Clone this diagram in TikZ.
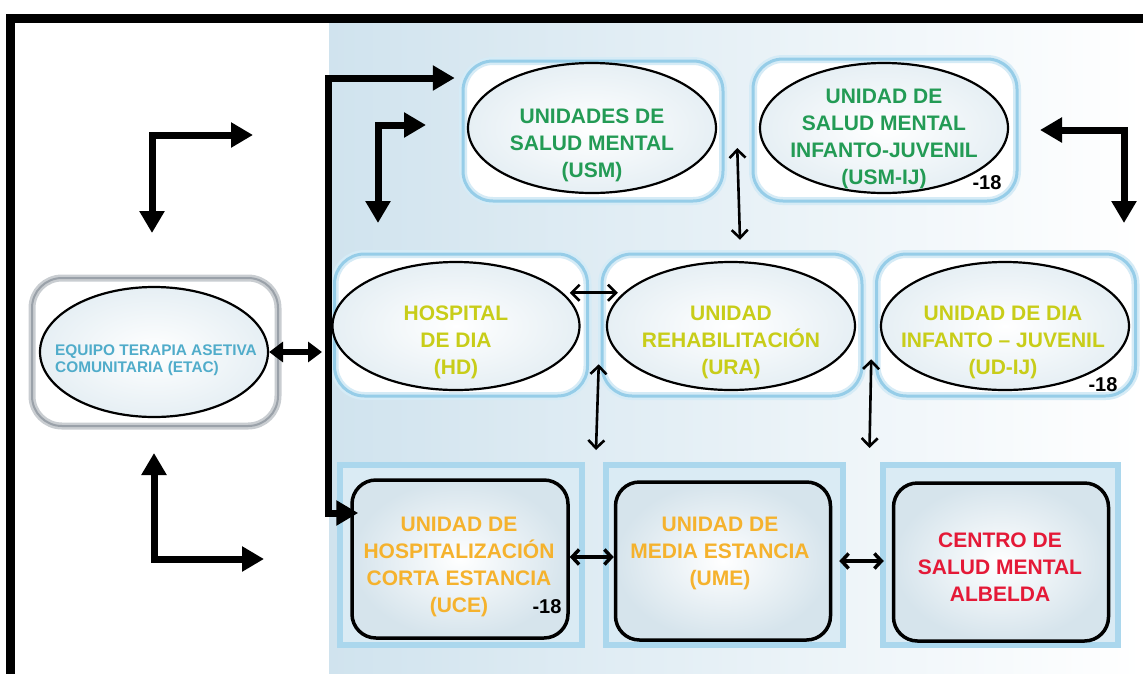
\documentclass[tikz,border=0pt]{standalone}
\usepackage{fontspec}
\setmainfont{Liberation Sans}
\usetikzlibrary{arrows.meta,shapes.geometric}
\definecolor{bgblue}{RGB}{208,227,238}
\definecolor{glowblue}{RGB}{150,205,232}
\definecolor{sqfill}{RGB}{218,235,244}
\definecolor{ellblue}{RGB}{230,239,244}
\definecolor{innerblue}{RGB}{214,228,236}
\definecolor{shadowgray}{RGB}{120,130,140}
\definecolor{etacblue}{RGB}{80,172,202}
\definecolor{textgreen}{RGB}{35,155,85}
\definecolor{textyellow}{RGB}{200,205,25}
\definecolor{textorange}{RGB}{245,178,45}
\definecolor{textred}{RGB}{228,25,55}
\begin{document}
\begin{tikzpicture}[x=1pt,y=-1pt]
    % Define the style for the blocks
    \tikzset{glowbox/.style={rectangle, rounded corners=30pt, draw=glowblue!40, line width=2.5pt, double=glowblue, double distance=3pt, fill=white, inner sep=0pt}}
    \tikzset{shadowbox/.style={rectangle, rounded corners=30pt, draw=shadowgray!40, line width=2.5pt, double=shadowgray!75, double distance=2pt, fill=white, inner sep=0pt}}
    \tikzset{unitell/.style={ellipse, draw, line width=2.2pt, inner color=white, outer color=ellblue, inner sep=0pt}}
    \tikzset{squarebox/.style={rectangle, draw=glowblue!80, line width=6pt, fill=sqfill, inner sep=0pt}}
    \tikzset{roundbox/.style={rectangle, rounded corners=24pt, draw, line width=3.5pt, inner color=white, outer color=innerblue, inner sep=0pt}}
    \tikzset{unittext/.style={align=center, inner sep=0pt, font=\fontsize{21}{27}\selectfont\bfseries}}
    \tikzset{ageneg/.style={inner sep=0pt, font=\fontsize{20}{24}\selectfont\bfseries}}
    % Define the style for the arrows
    \tikzset{bigline/.style={line width=7pt, >={Triangle[length=22pt,width=24pt]}, <->}}
    \tikzset{midline/.style={line width=6pt, >={Triangle[length=14pt,width=20pt]}, <->}}
    \tikzset{barbline/.style={line width=3.5pt, >={Straight Barb[length=7pt,width=15pt]}, <->}}
    \tikzset{thinline/.style={line width=2.6pt, >={Straight Barb[length=8pt,width=16pt]}, <->}}

    \useasboundingbox (0,0) rectangle (1143,673);

    % Background and frame
    \fill[left color=bgblue, right color=white] (329,23) rectangle (1143,673);
    \draw[line width=9pt] (1150,18) -- (10,18) -- (10,680);

    % Top row
    \node[glowbox, minimum width=260pt, minimum height=140pt] (usmbox) at (593,131) {};
    \node[glowbox, minimum width=264pt, minimum height=142pt] (usmijbox) at (885,130) {};
    \node[unitell, minimum width=248pt, minimum height=130pt] (usmell) at (592,128) {};
    \node[unitell, minimum width=248pt, minimum height=130pt] (usmijell) at (884,128) {};
    \node[unittext, text=textgreen] (usmtext) at (592,145) {UNIDADES DE\\SALUD MENTAL\\(USM)};
    \node[unittext, text=textgreen] (usmijtext) at (884,139) {UNIDAD DE\\SALUD MENTAL\\INFANTO-JUVENIL\\(USM-IJ)};
    \node[ageneg] (usmijage) at (987,183) {-18};

    % Middle row
    \node[glowbox, minimum width=253pt, minimum height=142pt] (hdbox) at (461,325) {};
    \node[glowbox, minimum width=260pt, minimum height=142pt] (urabox) at (732,325) {};
    \node[glowbox, minimum width=259pt, minimum height=142pt] (udijbox) at (1006,325) {};
    \node[unitell, minimum width=247pt, minimum height=128pt] (hdell) at (456,326) {};
    \node[unitell, minimum width=248pt, minimum height=128pt] (uraell) at (731,326) {};
    \node[unitell, minimum width=248pt, minimum height=128pt] (udijell) at (1005,326) {};
    \node[unittext, text=textyellow] (hdtext) at (456,342) {HOSPITAL\\DE DIA\\(HD)};
    \node[unittext, text=textyellow] (uratext) at (731,342) {UNIDAD\\REHABILITACIÓN\\(URA)};
    \node[unittext, text=textyellow] (udijtext) at (1003,342) {UNIDAD DE DIA\\INFANTO – JUVENIL\\(UD-IJ)};
    \node[ageneg] (udijage) at (1103,385) {-18};

    % ETAC on the left
    \node[shadowbox, minimum width=246pt, minimum height=148pt] (etacbox) at (155,352) {};
    \node[unitell, minimum width=228pt, minimum height=130pt] (etacell) at (154,352) {};
    \node[align=left, anchor=west, inner sep=0pt, text=etacblue, font=\fontsize{15.4}{17.5}\selectfont\bfseries] (etactext) at (55,360) {EQUIPO TERAPIA ASETIVA\\COMUNITARIA (ETAC)};

    % Bottom row
    \node[squarebox, minimum width=242pt, minimum height=180pt] (ucesq) at (461,555) {};
    \node[squarebox, minimum width=237pt, minimum height=180pt] (umesq) at (724,555) {};
    \node[squarebox, minimum width=235pt, minimum height=180pt] (albsq) at (1000,555) {};
    \node[roundbox, minimum width=216pt, minimum height=158pt] (uce) at (460,559) {};
    \node[roundbox, minimum width=215pt, minimum height=158pt] (ume) at (723,561) {};
    \node[roundbox, minimum width=215pt, minimum height=158pt] (alb) at (1001,562) {};
    \node[unittext, text=textorange] (ucetext) at (459,567) {UNIDAD DE\\HOSPITALIZACIÓN\\CORTA ESTANCIA\\(UCE)};
    \node[ageneg] (uceage) at (547,607) {-18};
    \node[unittext, text=textorange] (umetext) at (720,553) {UNIDAD DE\\MEDIA ESTANCIA\\(UME)};
    \node[unittext, text=textred] (albtext) at (1000,567) {CENTRO DE\\SALUD MENTAL\\ALBELDA};

    % Free ends of the L arrows
    \coordinate (trunktop) at (328,78);
    \coordinate (adown) at (152,233);
    \coordinate (aright) at (253,135);
    \coordinate (bdown) at (378,223);
    \coordinate (bright) at (426,125);
    \coordinate (cleft) at (1040,130);
    \coordinate (cdown) at (1124,223);
    \coordinate (dup) at (154,453);
    \coordinate (dright) at (264,559);

    % Thick arrows
    \draw[bigline] ([xshift=-7pt]usmbox.west |- trunktop) -- (trunktop) |- ([xshift=8pt,yshift=46pt]uce.west);
    \draw[bigline] (adown) |- (aright);
    \draw[bigline] (bdown) |- (bright);
    \draw[bigline] (cleft) -| (cdown);
    \draw[bigline] (dup) |- (dright);
    \draw[midline, shorten >=6pt] (etacell.east) -- (etacell.east -| trunktop);

    % Thin arrows between the units
    \draw[thinline] ([xshift=13pt,yshift=-17pt]usmbox.east) -- ([xshift=8pt,yshift=13pt]urabox.north);
    \draw[thinline] ([xshift=-19pt,yshift=-40pt]hdbox.north east) -- ([xshift=17pt,yshift=-40pt]urabox.north west);
    \draw[thinline] ([xshift=-2pt,yshift=33pt]urabox.south west) -- ([xshift=11pt,yshift=12pt]ucesq.north east);
    \draw[thinline] ([xshift=-4pt,yshift=38pt]udijbox.south west) -- ([xshift=-10pt,yshift=14pt]albsq.north west);
    \draw[barbline] ([yshift=2pt]uce.east) -- ([yshift=2pt]uce.east -| ume.west);
    \draw[barbline, shorten <=7pt, shorten >=8pt] (ume.east) -- (ume.east -| alb.west);

\end{tikzpicture}
\end{document}
